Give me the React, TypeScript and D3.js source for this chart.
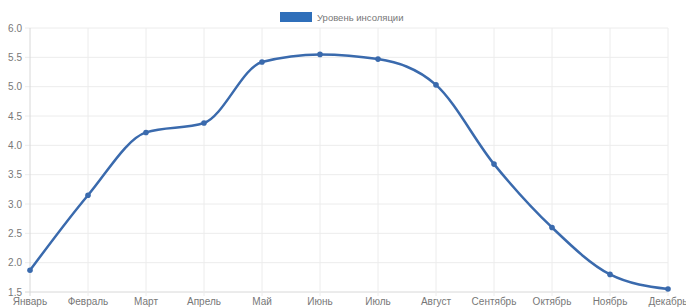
import React, { useEffect, useRef } from 'react'
import * as d3 from 'd3'

const months = ['Январь', 'Февраль', 'Март', 'Апрель', 'Май', 'Июнь', 'Июль', 'Август', 'Сентябрь', 'Октябрь', 'Ноябрь', 'Декабрь']
const insolation = [1.87, 3.15, 4.22, 4.38, 5.42, 5.55, 5.47, 5.03, 3.68, 2.6, 1.8, 1.55]
const yTicks = [1.5, 2.0, 2.5, 3.0, 3.5, 4.0, 4.5, 5.0, 5.5, 6.0]
const seriesName = 'Уровень инсоляции'

function App() {
    const ref = useRef<SVGSVGElement>(null)

    useEffect(() => {
        const w = 686, h = 308
        const left = 30, right = 668, top = 28, bottom = 292
        const font = 'Liberation Sans, Arial, sans-serif'

        const svg = d3.select(ref.current)
        svg.selectAll('*').remove()

        const x = d3.scalePoint<string>().domain(months).range([left, right])
        const y = d3.scaleLinear().domain([1.5, 6]).range([bottom, top])

        // grid
        svg.append('g')
            .selectAll('line')
            .data(yTicks)
            .enter()
            .append('line')
            .attr('x1', left - 5)
            .attr('x2', right)
            .attr('y1', d => y(d))
            .attr('y2', d => y(d))
            .attr('stroke', d => d === 1.5 ? '#d8d8d8' : '#ececec')
            .attr('stroke-width', 1)

        svg.append('g')
            .selectAll('line')
            .data(months)
            .enter()
            .append('line')
            .attr('x1', d => x(d)!)
            .attr('x2', d => x(d)!)
            .attr('y1', top)
            .attr('y2', bottom + 4)
            .attr('stroke', (d, i) => i === 0 ? '#d8d8d8' : '#ececec')
            .attr('stroke-width', 1)

        // y labels
        svg.append('g')
            .selectAll('text')
            .data(yTicks)
            .enter()
            .append('text')
            .attr('x', left - 8)
            .attr('y', d => y(d) + 3.5)
            .attr('text-anchor', 'end')
            .attr('font-family', font)
            .attr('font-size', 10)
            .attr('fill', '#777')
            .text(d => d.toFixed(1))

        // x labels
        svg.append('g')
            .selectAll('text')
            .data(months)
            .enter()
            .append('text')
            .attr('x', d => x(d)!)
            .attr('y', bottom + 13)
            .attr('text-anchor', 'middle')
            .attr('font-family', font)
            .attr('font-size', 10)
            .attr('fill', '#777')
            .text(d => d)

        const line = d3.line<number>()
            .x((d, i) => x(months[i])!)
            .y(d => y(d))
            .curve(d3.curveMonotoneX)

        svg.append('path')
            .datum(insolation)
            .attr('d', line)
            .attr('fill', 'none')
            .attr('stroke', '#3a6aad')
            .attr('stroke-width', 2.5)

        svg.append('g')
            .selectAll('circle')
            .data(insolation)
            .enter()
            .append('circle')
            .attr('cx', (d, i) => x(months[i])!)
            .attr('cy', d => y(d))
            .attr('r', 2.8)
            .attr('fill', '#3a6aad')

        // legend
        const lg = svg.append('g')
        lg.append('rect')
            .attr('x', 280)
            .attr('y', 12)
            .attr('width', 32)
            .attr('height', 10)
            .attr('fill', '#2f6fba')
        lg.append('text')
            .attr('x', 317)
            .attr('y', 20.5)
            .attr('font-family', font)
            .attr('font-size', 9.5)
            .attr('fill', '#777')
            .text(seriesName)

        svg.attr('width', w).attr('height', h)
    }, [])

    return (
        <svg ref={ref} width={686} height={308} style={{ position: 'absolute', left: 0, top: 0, background: '#fff' }}></svg>
    )
}

export default App
